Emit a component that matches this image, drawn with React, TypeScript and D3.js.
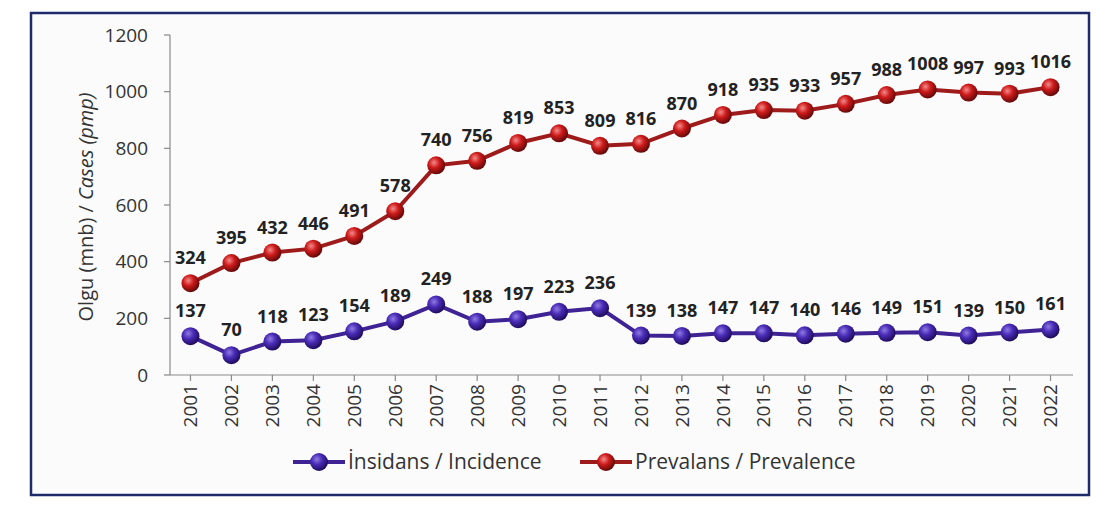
import React from "react";
import * as d3 from "d3";

const years = ["2001","2002","2003","2004","2005","2006","2007","2008","2009","2010","2011","2012","2013","2014","2015","2016","2017","2018","2019","2020","2021","2022"];
const incidence = [137,70,118,123,154,189,249,188,197,223,236,139,138,147,147,140,146,149,151,139,150,161];
const prevalence = [324,395,432,446,491,578,740,756,819,853,809,816,870,918,935,933,957,988,1008,997,993,1016];
const yTicks = [0,200,400,600,800,1000,1200];
const seriesNames = ["İnsidans / Incidence", "Prevalans / Prevalence"];

const W = 1096, H = 506;
const FONT = "'Open Sans', 'Liberation Sans', sans-serif";

export default function App() {
  const x = d3.scaleBand<string>().domain(years).range([170, 1071]);
  const y = d3.scaleLinear().domain([0, 1200]).range([375, 35]);
  const cx = (i: number) => (x(years[i]) as number) + x.bandwidth() / 2;
  const line = d3.line<number>().x((_, i) => cx(i)).y((d) => y(d));

  const series = [
    { name: seriesNames[0], data: incidence, line: "#3f2394", grad: "gInc" },
    { name: seriesNames[1], data: prevalence, line: "#9e1b1b", grad: "gPrev" },
  ];

  return (
    <svg width={W} height={H} style={{ position: "absolute", left: 0, top: 0, background: "#fff" }} fontFamily={FONT}>
      <defs>
        <radialGradient id="gInc" cx="38%" cy="35%" r="65%">
          <stop offset="0%" stopColor="#8f7be0" />
          <stop offset="45%" stopColor="#4a2cb8" />
          <stop offset="100%" stopColor="#200c5e" />
        </radialGradient>
        <radialGradient id="gPrev" cx="38%" cy="35%" r="65%">
          <stop offset="0%" stopColor="#f28a8a" />
          <stop offset="45%" stopColor="#cf1b1b" />
          <stop offset="100%" stopColor="#650909" />
        </radialGradient>
      </defs>
      <rect x={0} y={0} width={W} height={H} fill="#fff" />
      <rect x={31} y={13} width={1058} height={482} fill="#fbfbfc" stroke="#1f2a6b" strokeWidth={2.5} />

      {/* y axis */}
      <line x1={x.range()[0]} x2={x.range()[0]} y1={y(1200)} y2={y(0)} stroke="#8a8a8a" strokeWidth={1.2} />
      {yTicks.map((t) => (
        <g key={t}>
          <line x1={x.range()[0] - 6} x2={x.range()[0]} y1={y(t)} y2={y(t)} stroke="#8a8a8a" strokeWidth={1.2} />
          <text x={x.range()[0] - 22} y={y(t)} dy="0.35em" textAnchor="end" fontSize={19} fill="#333">{t}</text>
        </g>
      ))}
      {/* x axis */}
      <line x1={x.range()[0]} x2={x.range()[1] + 2} y1={y(0)} y2={y(0)} stroke="#8a8a8a" strokeWidth={1.2} />
      {years.map((yr, i) => (
        <g key={yr}>
          <line x1={cx(i)} x2={cx(i)} y1={y(0)} y2={y(0) + 6} stroke="#8a8a8a" strokeWidth={1.2} />
          <text transform={`translate(${cx(i)},${y(0) + 9}) rotate(-90)`} textAnchor="end" dy="0.35em" fontSize={19} fill="#333">{yr}</text>
        </g>
      ))}

      {/* y title */}
      <text transform={`translate(93,${207}) rotate(-90)`} textAnchor="middle" fontSize={20} fill="#333">
        Olgu (mnb) / <tspan fontStyle="italic">Cases (pmp)</tspan>
      </text>

      {series.map((s) => (
        <g key={s.name}>
          <path d={line(s.data) as string} fill="none" stroke={s.line} strokeWidth={4} />
          {s.data.map((v, i) => (
            <circle key={i} cx={cx(i)} cy={y(v)} r={9} fill={`url(#${s.grad})`} />
          ))}
          {s.data.map((v, i) => (
            <text key={"t" + i} x={cx(i)} y={y(v) - 19} textAnchor="middle" fontSize={18} fontWeight="bold" fill="#222">{v}</text>
          ))}
        </g>
      ))}

      {/* legend */}
      {series.map((s, k) => {
        const lx = k === 0 ? 293 : 580;
        const ly = 462;
        return (
          <g key={"lg" + k}>
            <line x1={lx} x2={lx + 52} y1={ly} y2={ly} stroke={s.line} strokeWidth={4} />
            <circle cx={lx + 26} cy={ly} r={9} fill={`url(#${s.grad})`} />
            <text x={lx + 55} y={ly} dy="0.35em" fontSize={21} fill="#333">{s.name}</text>
          </g>
        );
      })}
    </svg>
  );
}
